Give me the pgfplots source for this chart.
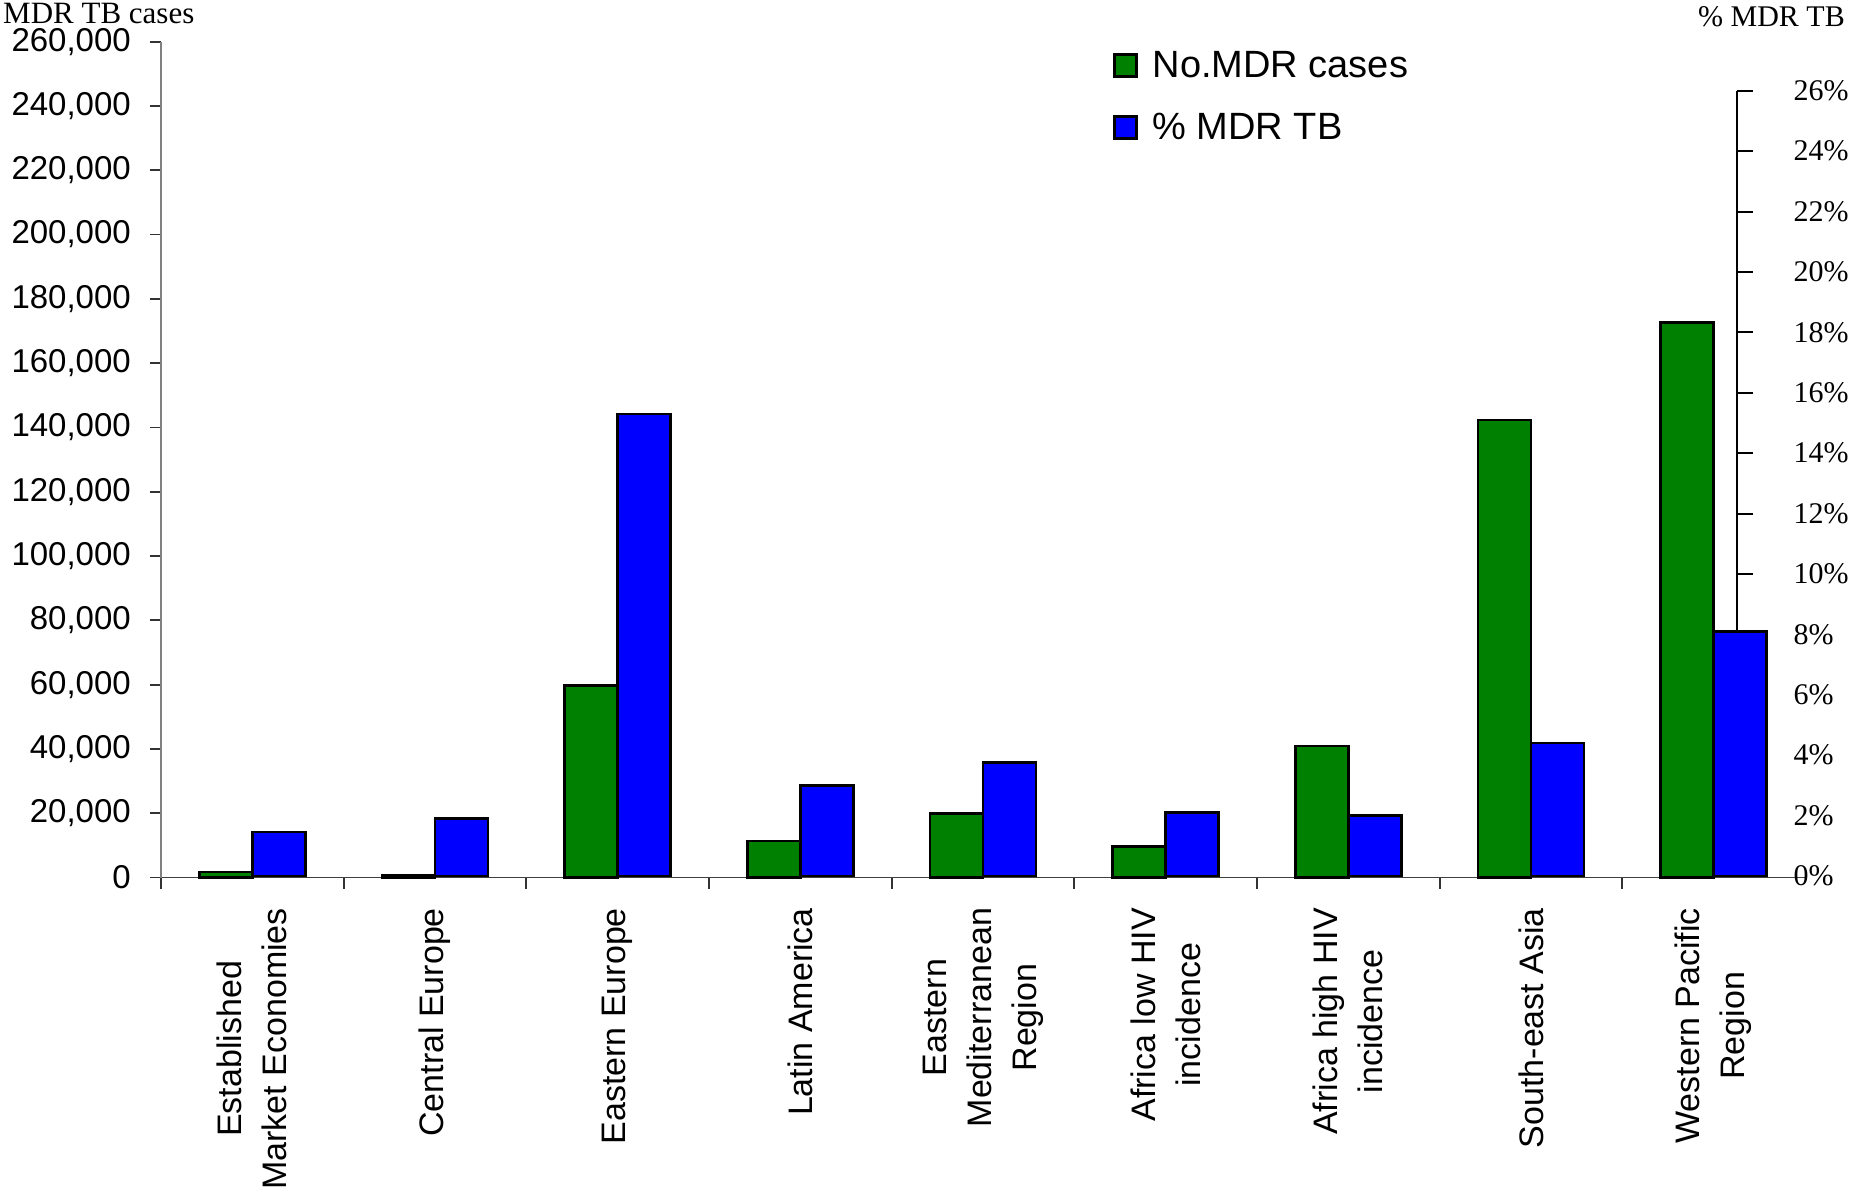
\documentclass[border=0pt]{standalone}
\usepackage{fontspec}
\usepackage{pgfplots}
\pgfplotsset{compat=1.18}
\setmainfont{Liberation Sans}
\newfontfamily\timesfont{Liberation Serif}
\definecolor{bargreen}{RGB}{0,128,0}
\definecolor{barblue}{RGB}{0,0,255}
\pgfplotsset{
  sqlegend/.style={legend image code/.code={\draw[##1, line width=2.5pt] (0pt,-11pt) rectangle (22pt,11pt);}}
}
\begin{document}
\begin{tikzpicture}
\useasboundingbox (0pt,0pt) rectangle (1853pt,-1189pt);
% ---- left axis: number of MDR cases ----
\begin{axis}[
  scale only axis,
  at={(161pt,-877.5pt)}, anchor=south west,
  width=1644pt, height=835.8pt,
  xmin=0, xmax=9, ymin=0, ymax=260000,
  enlargelimits=false,
  axis x line*=bottom, axis y line*=left,
  x axis line style={draw=black!75, line width=1.8pt},
  y axis line style={draw=black!50, line width=2.2pt},
  tick align=outside,
  major tick length=11pt,
  every tick/.style={draw=black!80, line width=1.8pt},
  ytick={0,20000,...,260000},
  scaled y ticks=false,
  /pgf/number format/fixed,
  /pgf/number format/1000 sep={,},
  /pgf/number format/assume math mode=true,
  yticklabel style={font=\fontsize{33}{40}\selectfont, anchor=east, inner sep=0pt, xshift=-19pt},
  xtick={0,1,...,8},
  xticklabels={},
  extra x ticks={0.5,1.5,...,8.5},
  extra x tick labels={{Established\\Market Economies},{Central Europe},{Eastern Europe},{Latin America},{Eastern\\Mediterranean\\Region},{Africa low HIV\\incidence},{Africa high HIV\\incidence},{South-east Asia},{Western Pacific\\Region}},
  extra x tick style={major tick length=0pt},
  xticklabel style={rotate=90, anchor=east, align=center, font=\fontsize{34}{45}\selectfont, xshift=-27pt},
  clip=false,
]
\addplot[ybar, bar width=53pt, bar shift=-26.5pt, fill=bargreen, draw=black, line width=2.6pt]
  coordinates {(0.5,1700) (1.5,800) (2.5,59800) (3.5,11400) (4.5,20000) (5.5,9600) (6.5,40900) (7.5,142300) (8.5,172600)};
\end{axis}
% ---- right axis: % MDR TB ----
\begin{axis}[
  scale only axis,
  at={(161pt,-875.9pt)}, anchor=south west,
  width=1576pt, height=785.2pt,
  xmin=0, xmax=8.6277, ymin=0, ymax=26,
  enlargelimits=false,
  axis x line=none, axis y line*=right,
  y axis line style={draw=black, line width=2pt},
  tick align=outside,
  major tick length=16pt,
  every tick/.style={draw=black, line width=2pt},
  ytick={0,2,...,26},
  /pgf/number format/fixed,
  /pgf/number format/assume math mode=true,
  yticklabel={\pgfmathprintnumber{\tick}\%},
  yticklabel style={font=\timesfont\fontsize{30}{36}\selectfont, anchor=west, xshift=37pt},
  clip=false,
  legend style={draw=none, fill=none, at={(0.604,1.055)}, anchor=north west,
    inner sep=0pt, row sep=26pt, font=\fontsize{38}{45}\selectfont,
    nodes={inner sep=4pt},
    /tikz/every odd column/.style={column sep=11pt}},
  legend cell align=left,
]
\addlegendimage{fill=bargreen, draw=black, sqlegend}
\addlegendentry{No.MDR cases}
\addplot[ybar, bar width=53pt, bar shift=26.5pt, fill=barblue, draw=black, line width=2.6pt, sqlegend]
  coordinates {(0.5,1.45) (1.5,1.9) (2.5,15.3) (3.5,3.0) (4.5,3.75) (5.5,2.1) (6.5,2.0) (7.5,4.4) (8.5,8.1)};
\addlegendentry{\% MDR TB}
\end{axis}
\node[anchor=base west, inner sep=0pt, font=\timesfont\fontsize{31}{36}\selectfont] at (3pt,-23pt) {MDR TB cases};
\node[anchor=base east, inner sep=0pt, font=\timesfont\fontsize{30}{36}\selectfont] at (1845pt,-26pt) {\% MDR TB};
\end{tikzpicture}
\end{document}
